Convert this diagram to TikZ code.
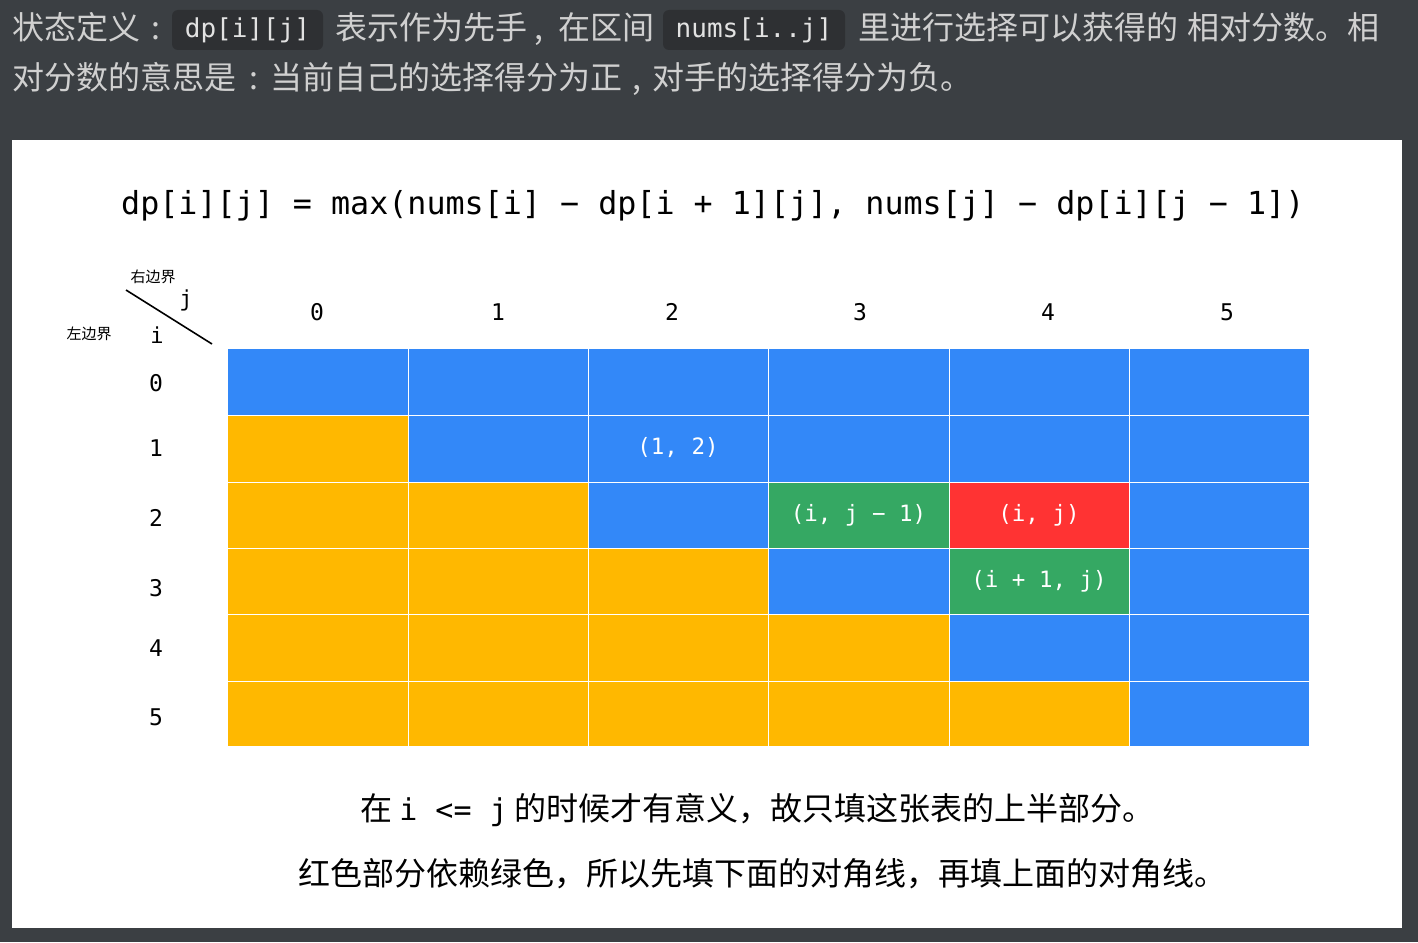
\documentclass[tikz,border=0pt]{standalone}
\usepackage{fontspec}
\setmainfont{Noto Sans CJK SC}
\setmonofont{DejaVu Sans Mono}
\newfontfamily\monofam{DejaVu Sans Mono}
\definecolor{bg}{HTML}{3B3F43}
\definecolor{codebg}{HTML}{2E3033}
\definecolor{toptext}{HTML}{D0D0D0}
\definecolor{codetext}{HTML}{E2E2E2}
\definecolor{cblue}{HTML}{3388F8}
\definecolor{cyellow}{HTML}{FFB800}
\definecolor{cgreen}{HTML}{35A863}
\definecolor{cred}{HTML}{FF3333}
\tikzset{
  toptxt/.style={anchor=base west, inner sep=0pt, text=toptext, font=\fontsize{32}{32}\selectfont},
  codebox/.style={fill=codebg, rounded corners=6pt, text=codetext, inner sep=0pt, font=\monofam\fontsize{26}{26}\selectfont},
  celltxt/.style={text=white, inner sep=0pt, font=\monofam\fontsize{22.5}{22.5}\selectfont},
  hdr/.style={anchor=base, inner sep=0pt, text=black, font=\monofam\fontsize{23}{23}\selectfont},
  smalllbl/.style={inner sep=0pt, text=black, font=\fontsize{15}{15}\selectfont},
  axislbl/.style={inner sep=0pt, text=black, font=\monofam\fontsize{22}{22}\selectfont},
  bottomtxt/.style={anchor=base west, inner sep=0pt, text=black, font=\fontsize{32}{32}\selectfont},
  formula/.style={anchor=base west, inner sep=0pt, text=black, font=\monofam\fontsize{31.7}{31.7}\selectfont},
  gridline/.style={draw=white, line width=1pt},
}
\begin{document}
\begin{tikzpicture}[x=1pt,y=-1pt]
\fill[bg] (0,0) rectangle (1418,942);
\useasboundingbox (0,0) rectangle (1418,942);
\fill[white] (12,140) rectangle (1402,928);

% top description
\node[toptxt] (t1) at (12,40) {状态定义};
\node[toptxt] (t1c) at (151,40) {:};
\node[codebox, minimum width=151pt, minimum height=40pt] (code1) at (247.5,30) {dp[i][j]};
\node[toptxt] (t2) at (335,40) {表示作为先手};
\node[toptxt] (t2c) at (534,40) {,};
\node[toptxt] (t3) at (558,40) {在区间};
\node[codebox, minimum width=182pt, minimum height=40pt] (code2) at (754,30) {nums[i..j]};
\node[toptxt] (t4) at (858,40) {里进行选择可以获得的};
\node[toptxt] (t5) at (1187,40) {相对分数。相};
\node[toptxt] (t6) at (12,89) {对分数的意思是};
\node[toptxt] (t6c) at (249,89) {:};
\node[toptxt] (t7) at (270,89) {当前自己的选择得分为正};
\node[toptxt] (t7c) at (632,89) {,};
\node[toptxt] (t8) at (652,89) {对手的选择得分为负。};

% formula
\node[formula] (f) at (121,214) {dp[i][j] = max(nums[i] − dp[i + 1][j], nums[j] − dp[i][j − 1])};

% cells
\foreach \i/\ya/\yb in {0/349/415,1/415/482,2/482/548,3/548/614,4/614/681,5/681/746}{
  \foreach \j/\xa/\xb in {0/228/408,1/408/588,2/588/768,3/768/949,4/949/1129,5/1129/1309}{
    \ifnum\j<\i \def\cc{cyellow}\else\def\cc{cblue}\fi
    \fill[\cc] (\xa,\ya) rectangle (\xb,\yb);
  }
}
\fill[cgreen] (768,482) rectangle (949,548);
\fill[cred] (949,482) rectangle (1129,548);
\fill[cgreen] (949,548) rectangle (1129,614);
\foreach \x in {408,588,768,949,1129}{ \draw[gridline] (\x,349) -- (\x,746); }
\foreach \y in {415,482,548,614,681}{ \draw[gridline] (228,\y) -- (1309,\y); }

\node[celltxt] (c12) at (678,448) {(1, 2)};
\node[celltxt] (cg1) at (858.5,515) {(i, j − 1)};
\node[celltxt] (cr) at (1039,515) {(i, j)};
\node[celltxt] (cg2) at (1039,581) {(i + 1, j)};

% headers
\node[hdr] (h0) at (317,320) {0};
\node[hdr] (h1) at (498,320) {1};
\node[hdr] (h2) at (672,320) {2};
\node[hdr] (h3) at (860,320) {3};
\node[hdr] (h4) at (1048,320) {4};
\node[hdr] (h5) at (1227,320) {5};
\node[hdr] (r0) at (156,391) {0};
\node[hdr] (r1) at (156,456) {1};
\node[hdr] (r2) at (156,526) {2};
\node[hdr] (r3) at (156,596) {3};
\node[hdr] (r4) at (156,656) {4};
\node[hdr] (r5) at (156,725) {5};

% corner
\coordinate (d1) at (126,290);
\coordinate (d2) at (212,344);
\draw[line width=1.6pt, black] (d1) -- (d2);
\node[smalllbl] (rb) at (153,277) {右边界};
\node[smalllbl] (lb) at (89,334) {左边界};
\node[axislbl] (aj) at (186,300) {j};
\node[axislbl] (ai) at (157,335) {i};

% bottom text
\node[bottomtxt] (b1) at (360,820) {在 {\monofam\fontsize{30}{30}\selectfont i <= j} 的时候才有意义，故只填这张表的上半部分。};
\node[bottomtxt] (b2) at (298,885) {红色部分依赖绿色，所以先填下面的对角线，再填上面的对角线。};
\end{tikzpicture}
\end{document}
